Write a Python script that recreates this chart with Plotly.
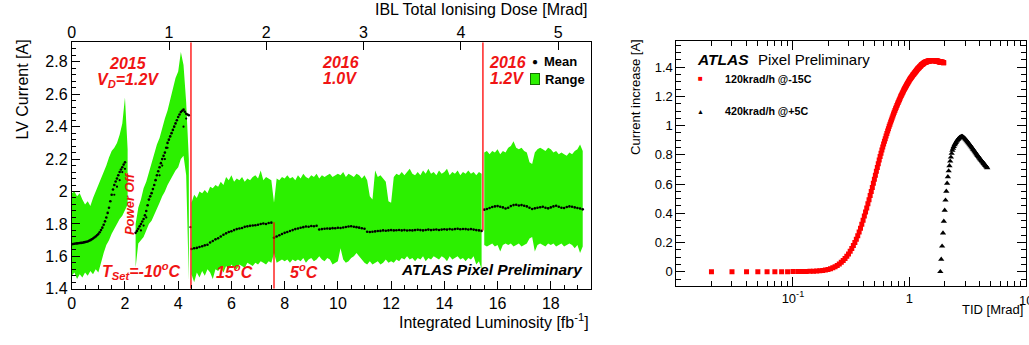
import plotly.graph_objects as go

W, H = 1029, 345
FONT = "Liberation Sans, Arial, Helvetica, sans-serif"
GREEN = "rgb(44,240,0)"

# ---------------- Left panel data (LV current vs integrated luminosity) ----------------
LUM_STEP = 0.1
MEAN_STEP_2015 = 0.05
LUM_PER_MRAD = 3.655          # fb^-1 per Mrad (top axis conversion)
LUM_RANGE = [0.0, 19.5]
CURRENT_RANGE = [1.4, 2.92]

# Segment A: 2015 before power off
SEG_A_START = 0.0
SEG_A_UPPER = [1.99, 2.00, 1.97, 1.99, 1.95, 1.92, 1.94, 1.91, 1.96, 2.00, 2.04, 2.08, 2.11, 2.16,
               2.21, 2.25, 2.27, 2.30, 2.35, 2.42, 2.58, 2.26]
SEG_A_LOWER = [1.48, 1.50, 1.46, 1.49, 1.47, 1.50, 1.48, 1.51, 1.49, 1.52, 1.50, 1.56, 1.62, 1.67,
               1.70, 1.74, 1.77, 1.80, 1.83, 1.85, 1.88, 1.92]
SEG_A_MEAN = [1.675, 1.676, 1.678, 1.679, 1.680, 1.681, 1.682, 1.683, 1.684, 1.686, 1.688, 1.690,
              1.692, 1.696, 1.700, 1.705, 1.710, 1.716, 1.722, 1.730, 1.738, 1.749, 1.762, 1.777,
              1.795, 1.816, 1.840, 1.868, 1.900, 1.940, 1.980, 2.012, 2.040, 2.062, 2.080, 2.100,
              2.120, 2.136, 2.150, 2.166, 2.180]

# Segment B: 2015 after power off
SEG_B_START = 2.4
SEG_B_UPPER = [1.80, 1.90, 1.95, 2.02, 2.06, 2.12, 2.17, 2.23, 2.29, 2.33, 2.40, 2.45, 2.50, 2.57,
               2.62, 2.70, 2.74, 2.86, 2.78, 2.55, 2.20]
SEG_B_LOWER = [1.53, 1.68, 1.70, 1.72, 1.76, 1.80, 1.82, 1.86, 1.89, 1.93, 1.97, 2.00, 2.04, 2.07,
               2.10, 2.13, 2.15, 2.20, 2.22, 2.10, 1.45]
SEG_B_MEAN = [1.745, 1.757, 1.770, 1.785, 1.800, 1.815, 1.830, 1.853, 1.880, 1.915, 1.950, 1.970,
              1.990, 2.015, 2.040, 2.070, 2.100, 2.125, 2.150, 2.175, 2.200, 2.220, 2.240, 2.270,
              2.300, 2.320, 2.340, 2.360, 2.380, 2.400, 2.420, 2.440, 2.460, 2.475, 2.490, 2.498,
              2.505, 2.492, 2.480, 2.475, 2.470]

# Segment C: 2016 at 1.0 V
SEG_C_START = 4.5
SEG_C_UPPER = [1.93, 1.98, 1.96, 2.00, 1.99, 2.01, 1.99, 2.03, 2.02, 2.04,
               2.03, 2.06, 2.04, 2.09, 2.07, 2.10, 2.06, 2.08, 2.07, 2.09,
               2.06, 2.08, 2.07, 2.09, 2.10, 2.08, 2.13, 2.07, 2.09, 2.08,
               2.07, 1.93, 2.08, 2.07, 2.09, 2.08, 2.10, 2.08, 2.09, 2.07,
               2.10, 2.08, 2.11, 2.09, 2.08, 2.10, 2.09, 2.11, 2.08, 2.10,
               2.09, 2.10, 2.11, 2.09, 2.10, 2.11, 2.10, 2.12, 2.09, 2.11,
               2.10, 2.09, 2.11, 2.10, 2.08, 2.10, 2.07, 1.97, 1.95, 2.13,
               2.09, 2.10, 2.08, 2.06, 1.94, 1.93, 2.09, 2.11, 2.10, 2.12,
               2.10, 2.12, 2.14, 2.11, 2.10, 2.12, 2.10, 2.13, 2.11, 2.14,
               2.11, 2.12, 2.10, 2.13, 2.11, 2.12, 2.14, 2.10, 2.12, 2.11,
               2.13, 2.10, 2.12, 2.11, 2.13, 2.11, 2.12, 2.10, 2.12, 2.11]
SEG_C_LOWER = [1.49, 1.44, 1.50, 1.47, 1.51, 1.48, 1.52, 1.50, 1.46, 1.52,
               1.51, 1.53, 1.50, 1.54, 1.52, 1.55, 1.53, 1.52, 1.55, 1.54,
               1.53, 1.56, 1.55, 1.54, 1.56, 1.55, 1.57, 1.56, 1.55, 1.57,
               1.56, 1.62, 1.56, 1.57, 1.58, 1.57, 1.58, 1.56, 1.58, 1.57,
               1.58, 1.57, 1.59, 1.56, 1.58, 1.59, 1.57, 1.58, 1.60, 1.58,
               1.57, 1.59, 1.58, 1.55, 1.56, 1.57, 1.65, 1.58, 1.56, 1.57,
               1.59, 1.60, 1.62, 1.60, 1.58, 1.56, 1.55, 1.57, 1.55, 1.56,
               1.57, 1.55, 1.56, 1.58, 1.56, 1.57, 1.56, 1.58, 1.57, 1.59,
               1.58, 1.60, 1.58, 1.59, 1.57, 1.59, 1.58, 1.60, 1.57, 1.59,
               1.58, 1.60, 1.59, 1.58, 1.60, 1.59, 1.57, 1.60, 1.58, 1.59,
               1.60, 1.58, 1.59, 1.57, 1.59, 1.58, 1.60, 1.55, 1.57, 1.52]
SEG_C_MEAN = [1.645, 1.650, 1.652, 1.658, 1.662, 1.668, 1.672, 1.685, 1.695, 1.705,
              1.712, 1.722, 1.733, 1.742, 1.750, 1.755, 1.762, 1.768, 1.772, 1.775,
              1.782, 1.785, 1.788, 1.790, 1.792, 1.795, 1.800, 1.803, 1.800, 1.806,
              1.808, 1.715, 1.722, 1.730, 1.738, 1.745, 1.750, 1.756, 1.762, 1.768,
              1.772, 1.776, 1.780, 1.784, 1.783, 1.787, 1.786, 1.789, 1.766, 1.768,
              1.770, 1.772, 1.771, 1.774, 1.773, 1.776, 1.775, 1.778, 1.781, 1.784,
              1.786, 1.783, 1.780, 1.777, 1.773, 1.770, 1.752, 1.750, 1.752, 1.754,
              1.756, 1.757, 1.760, 1.758, 1.760, 1.762, 1.760, 1.761, 1.763, 1.760,
              1.762, 1.759, 1.761, 1.760, 1.762, 1.764, 1.762, 1.760, 1.763, 1.765,
              1.762, 1.764, 1.766, 1.763, 1.765, 1.767, 1.765, 1.768, 1.766, 1.768,
              1.770, 1.767, 1.769, 1.768, 1.766, 1.768, 1.765, 1.762, 1.760, 1.757]

# Segment D: 2016 at 1.2 V
SEG_D_START = 15.5
SEG_D_UPPER = [2.24, 2.25, 2.23, 2.25, 2.24, 2.26, 2.23, 2.25, 2.24, 2.27, 2.28, 2.31, 2.27, 2.26,
               2.27, 2.25, 2.24, 2.18, 2.17, 2.24, 2.26, 2.27, 2.26, 2.25, 2.27, 2.26, 2.24, 2.25,
               2.23, 2.24, 2.23, 2.22, 2.24, 2.23, 2.25, 2.26, 2.29, 2.25]
SEG_D_LOWER = [1.67, 1.66, 1.67, 1.68, 1.66, 1.67, 1.63, 1.67, 1.68, 1.67, 1.68, 1.66, 1.67, 1.68,
               1.66, 1.67, 1.68, 1.71, 1.72, 1.63, 1.67, 1.68, 1.67, 1.66, 1.68, 1.67, 1.68, 1.66,
               1.67, 1.68, 1.66, 1.67, 1.68, 1.67, 1.65, 1.67, 1.62, 1.66]
SEG_D_MEAN = [1.888, 1.892, 1.898, 1.904, 1.908, 1.910, 1.906, 1.902, 1.895, 1.900, 1.910, 1.916,
              1.918, 1.914, 1.916, 1.912, 1.908, 1.900, 1.892, 1.896, 1.900, 1.903, 1.906, 1.900,
              1.896, 1.902, 1.908, 1.912, 1.906, 1.900, 1.898, 1.904, 1.908, 1.906, 1.902, 1.898,
              1.895, 1.890]

# scattered extra mean points (other modules) in 2015
EXTRA_MEAN_LUM = [1.6, 1.7, 1.8, 1.9, 2.0, 2.6, 2.7, 2.8, 3.3, 3.4, 3.5, 3.6, 4.2, 4.3, 4.46]
EXTRA_MEAN_VAL = [1.98, 2.03, 2.07, 2.12, 2.14, 1.76, 1.79, 1.84, 2.10, 2.16, 2.20, 2.27, 2.40, 2.45, 1.78]

# period boundaries (red lines)
BOUNDARY_LUM = [4.48, 7.6, 15.45]
BOUNDARY_LOW = [1.4, 1.4, 1.76]
BOUNDARY_HIGH = [2.92, 1.81, 2.92]

# ---------------- Right panel data (current increase vs TID) ----------------
TID_STEP_RED = 0.01
TID_START_RED = 0.02
RED_CURRENT = [0, 0, 0, 0, 0, 0, 0, 0, 0.001,
               0.001, 0.002, 0.002, 0.003, 0.004, 0.005, 0.007, 0.009, 0.012, 0.016,
               0.021, 0.027, 0.034, 0.043, 0.053, 0.064, 0.077, 0.091, 0.106, 0.122,
               0.140, 0.159, 0.179, 0.200, 0.223, 0.247, 0.272, 0.298, 0.325, 0.353,
               0.381, 0.409, 0.437, 0.465, 0.493, 0.521, 0.549, 0.577, 0.605, 0.633,
               0.660, 0.687, 0.713, 0.739, 0.764, 0.788, 0.811, 0.833, 0.854, 0.874,
               0.893, 0.911, 0.929, 0.946, 0.963, 0.979, 0.995, 1.010, 1.025, 1.039,
               1.053, 1.066, 1.079, 1.091, 1.103, 1.115, 1.126, 1.137, 1.148, 1.158,
               1.168, 1.178, 1.188, 1.197, 1.206, 1.215, 1.223, 1.231, 1.239, 1.247,
               1.254, 1.261, 1.268, 1.275, 1.282, 1.288, 1.294, 1.300, 1.306, 1.312,
               1.317, 1.322, 1.327, 1.332, 1.337, 1.342, 1.346, 1.350, 1.354, 1.358,
               1.362, 1.366, 1.370, 1.374, 1.378, 1.382, 1.386, 1.389, 1.392, 1.395,
               1.398, 1.401, 1.404, 1.407, 1.410, 1.413, 1.416, 1.418, 1.420, 1.422,
               1.424, 1.426, 1.428, 1.430, 1.432, 1.433, 1.434, 1.435, 1.436, 1.437,
               1.438, 1.439, 1.440, 1.441, 1.441, 1.442, 1.442, 1.443, 1.443, 1.444,
               1.444, 1.444, 1.445, 1.445, 1.445, 1.445, 1.445, 1.445, 1.445, 1.445,
               1.445, 1.445, 1.445, 1.444, 1.444, 1.444, 1.444, 1.443, 1.443, 1.443,
               1.442, 1.442, 1.441, 1.441, 1.440, 1.440, 1.439, 1.439, 1.438, 1.438,
               1.437, 1.437, 1.436, 1.436, 1.435, 1.435, 1.434, 1.434, 1.434, 1.433,
               1.433, 1.433, 1.432, 1.432, 1.432, 1.431, 1.431]

BLACK_TID = [1.84, 1.873, 1.906, 1.939, 1.972, 2.005, 2.038, 2.071, 2.104, 2.137, 2.17, 2.203,
             2.236, 2.269, 2.302, 2.335, 2.368, 2.401, 2.434, 2.467, 2.5, 2.533, 2.566, 2.599,
             2.632, 2.665, 2.698, 2.731, 2.764, 2.797, 2.83,
             2.85, 2.90, 2.95, 3.00, 3.05, 3.10, 3.15, 3.20, 3.25, 3.30, 3.35, 3.40, 3.45, 3.50,
             3.55, 3.60, 3.65, 3.70, 3.75, 3.80, 3.85, 3.90, 3.95, 4.00, 4.05, 4.10, 4.15, 4.20,
             4.25, 4.30, 4.35, 4.40, 4.45, 4.50, 4.55, 4.60, 4.65]
BLACK_CURRENT = [0.0, 0.085, 0.175, 0.265, 0.345, 0.42, 0.49, 0.55, 0.605, 0.65, 0.69, 0.725,
                 0.757, 0.784, 0.81, 0.83, 0.845, 0.857, 0.868, 0.876, 0.884, 0.892, 0.899, 0.905,
                 0.910, 0.914, 0.918, 0.921, 0.923, 0.925, 0.925,
                 0.924, 0.921, 0.916, 0.910, 0.903, 0.896, 0.889, 0.882, 0.875, 0.868, 0.861,
                 0.854, 0.847, 0.840, 0.834, 0.827, 0.820, 0.813, 0.806, 0.800, 0.794, 0.788,
                 0.782, 0.776, 0.770, 0.765, 0.760, 0.755, 0.750, 0.745, 0.740, 0.735, 0.730,
                 0.726, 0.721, 0.716, 0.711]

TID_TICKS = [0.1, 1, 10]
TID_TICK_TEXT = ["10<sup>-1</sup>", "1", "10"]


def lum_grid(start, n, step=LUM_STEP):
    return [round(start + step * i, 3) for i in range(n)]


def px(x):
    return x / W


def py(y):
    return 1 - y / H


fig = go.Figure()

segments = [
    (SEG_A_START, SEG_A_UPPER, SEG_A_LOWER, SEG_A_MEAN, MEAN_STEP_2015),
    (SEG_B_START, SEG_B_UPPER, SEG_B_LOWER, SEG_B_MEAN, MEAN_STEP_2015),
    (SEG_C_START, SEG_C_UPPER, SEG_C_LOWER, SEG_C_MEAN, LUM_STEP),
    (SEG_D_START, SEG_D_UPPER, SEG_D_LOWER, SEG_D_MEAN, LUM_STEP),
]

for start, up, lo, _, _ in segments:
    xs = lum_grid(start, len(up))
    fig.add_trace(go.Scatter(
        x=xs + xs[::-1], y=up + lo[::-1], fill="toself", fillcolor=GREEN,
        line=dict(width=0, color=GREEN), mode="lines", hoverinfo="skip",
        showlegend=False, xaxis="x", yaxis="y"))

for start, _, _, mean, step in segments:
    xs = lum_grid(start, len(mean), step)
    fig.add_trace(go.Scatter(
        x=xs, y=mean, mode="markers", marker=dict(size=2.6, color="black"),
        showlegend=False, xaxis="x", yaxis="y"))

fig.add_trace(go.Scatter(
    x=EXTRA_MEAN_LUM, y=EXTRA_MEAN_VAL, mode="markers",
    marker=dict(size=2.2, color="black"), showlegend=False, xaxis="x", yaxis="y"))

for b, lo, hi in zip(BOUNDARY_LUM, BOUNDARY_LOW, BOUNDARY_HIGH):
    fig.add_trace(go.Scatter(
        x=[b, b], y=[lo, hi], mode="lines", line=dict(color="red", width=1.3),
        showlegend=False, xaxis="x", yaxis="y"))

# invisible trace to activate the top dose axis
fig.add_trace(go.Scatter(
    x=[0, LUM_RANGE[1] / LUM_PER_MRAD], y=[None, None], mode="markers",
    showlegend=False, hoverinfo="skip", xaxis="x3", yaxis="y"))

# right panel
red_tid = [round(TID_START_RED + TID_STEP_RED * i, 3) for i in range(len(RED_CURRENT))]
fig.add_trace(go.Scatter(
    x=red_tid, y=RED_CURRENT, mode="markers",
    marker=dict(symbol="square", size=5, color="red", line=dict(width=0)),
    showlegend=False, xaxis="x2", yaxis="y2"))
fig.add_trace(go.Scatter(
    x=BLACK_TID, y=BLACK_CURRENT, mode="markers",
    marker=dict(symbol="triangle-up", size=5.5, color="black", line=dict(width=0)),
    showlegend=False, xaxis="x2", yaxis="y2"))

axis_common = dict(showgrid=False, zeroline=False, showline=True, linecolor="black",
                   linewidth=1, ticks="inside", tickcolor="black", tickwidth=1,
                   tickfont=dict(family=FONT, size=16, color="black"))

minor_log = [0.02, 0.03, 0.04, 0.05, 0.06, 0.07, 0.08, 0.09,
             0.2, 0.3, 0.4, 0.5, 0.6, 0.7, 0.8, 0.9,
             2, 3, 4, 5, 6, 7, 8, 9]

fig.update_layout(
    width=W, height=H, autosize=False,
    margin=dict(l=0, r=0, t=0, b=0),
    paper_bgcolor="white", plot_bgcolor="white",
    font=dict(family=FONT, color="black"),
    xaxis=dict(**axis_common, domain=[px(68), px(589)], range=LUM_RANGE, anchor="y",
               tickmode="linear", tick0=0, dtick=2, ticklen=8, mirror=True,
               minor=dict(ticks="inside", dtick=0.5, tick0=0, ticklen=4, tickcolor="black")),
    xaxis3=dict(showgrid=False, zeroline=False, showline=False, overlaying="x", side="top",
                anchor="y", range=[0, LUM_RANGE[1] / LUM_PER_MRAD], tickmode="linear",
                tick0=0, dtick=1, ticks="inside", ticklen=8, tickcolor="black",
                tickfont=dict(family=FONT, size=16, color="black")),
    yaxis=dict(**axis_common, domain=[py(296.5), py(43.5)], range=CURRENT_RANGE, anchor="x",
               tickmode="linear", tick0=1.4, dtick=0.2, ticklen=8, mirror=True,
               minor=dict(ticks="inside", dtick=0.04, tick0=1.4, ticklen=4, tickcolor="black")),
    xaxis2=dict(showgrid=False, zeroline=False, showline=True, linecolor="black", linewidth=1,
                type="log", domain=[px(675), px(1026)], range=[-2, 1], anchor="y2",
                tickmode="array", tickvals=TID_TICKS[:-1], ticktext=TID_TICK_TEXT[:-1],
                ticks="inside", ticklen=9, tickcolor="black", mirror="allticks",
                tickfont=dict(family=FONT, size=13, color="black"),
                minor=dict(ticks="inside", tickmode="array", tickvals=minor_log, ticklen=5,
                           tickcolor="black")),
    yaxis2=dict(showgrid=False, zeroline=False, showline=True, linecolor="black", linewidth=1,
                domain=[py(294), py(42)], range=[-0.1, 1.58], anchor="x2",
                tickmode="linear", tick0=0, dtick=0.2, ticks="inside", ticklen=9,
                tickcolor="black", mirror="allticks",
                tickfont=dict(family=FONT, size=13, color="black"),
                minor=dict(ticks="inside", dtick=0.05, tick0=0, ticklen=5, tickcolor="black")),
)

ann = []


def text(x, y, t, size, color="black", xanchor="center", angle=0):
    ann.append(dict(x=px(x), y=py(y), xref="paper", yref="paper", text=t, showarrow=False,
                    xanchor=xanchor, yanchor="middle", textangle=angle,
                    font=dict(family=FONT, size=size, color=color)))


# the last decade label sits on the right border and is clipped by the page edge
text(1026, 309, TID_TICK_TEXT[-1], 13)

# axis titles
text(588, 10, "IBL Total Ionising Dose [Mrad]", 16, xanchor="right")
text(589, 330, "Integrated Luminosity [fb<sup>-1</sup>]", 16, xanchor="right")
text(19, 92, "LV Current [A]", 16, angle=-90)
text(634, 100, "Current increase [A]", 13, angle=-90)
text(1025, 318, "TID [Mrad]", 13, xanchor="right")

# left panel labels
RED = "rgb(240,20,20)"
text(124, 65, "<b><i>2015</i></b>", 16, RED)
text(124, 83, "<b><i>V<sub>D</sub>=1.2V</i></b>", 16, RED)
text(337.5, 64, "<b><i>2016</i></b>", 16, RED)
text(337, 81, "<b><i>1.0V</i></b>", 16, RED)
text(505.5, 64, "<b><i>2016</i></b>", 16, RED)
text(505, 81, "<b><i>1.2V</i></b>", 16, RED)
text(126, 209, "<b><i>Power Off</i></b>", 13, RED, angle=-90)
text(138, 278, "<b><i>T<sub>Set</sub>=-10<sup>o</sup>C</i></b>", 16, RED)
text(231, 278, "<b><i>15<sup>o</sup>C</i></b>", 16, RED)
text(301, 278, "<b><i>5<sup>o</sup>C</i></b>", 16, RED)
text(583, 277, "<b><i>ATLAS Pixel Preliminary</i></b>", 15.5, xanchor="right")

# left legend
text(533, 63.5, "●", 10)
text(540, 63.5, "<b>Mean</b>", 13, xanchor="left")
ann.append(dict(x=px(533.5), y=py(81.5), xref="paper", yref="paper", text=" ",
                showarrow=False, xanchor="center", yanchor="middle", width=8, height=10,
                bgcolor=GREEN, bordercolor="rgb(20,110,0)", borderwidth=1, borderpad=0,
                font=dict(size=6)))
text(541, 81.5, "<b>Range</b>", 13, xanchor="left")

# right legend
text(694, 61, "<b><i>ATLAS</i></b>", 15.5, xanchor="left")
text(755, 61, "Pixel Preliminary", 15, xanchor="left")
text(699.5, 81, "■", 8, "red")
text(722, 81, "<b>120krad/h @-15C</b>", 10.7, xanchor="left")
text(699.5, 114, "▲", 7, "black")
text(722, 114, "<b>420krad/h @+5C</b>", 10.7, xanchor="left")

fig.update_layout(annotations=ann)

fig.write_html("out.html", config={"displayModeBar": False},
               post_script="document.body.style.margin='0';document.body.style.overflow='hidden';")
